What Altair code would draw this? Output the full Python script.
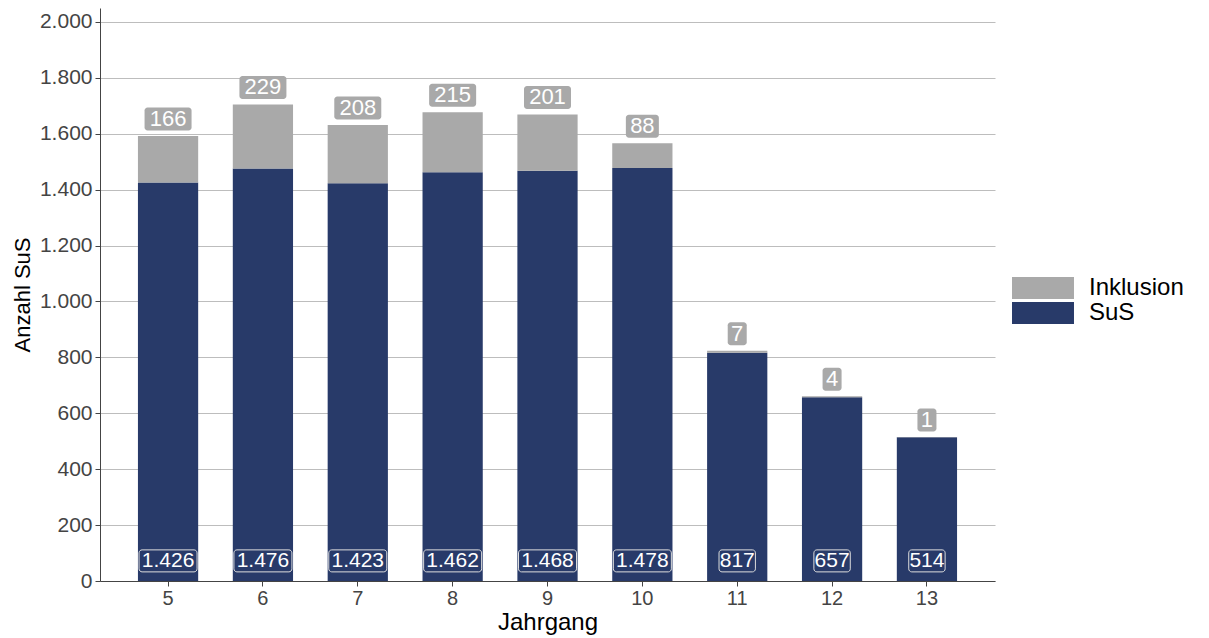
import altair as alt
import pandas as pd

jahrgang = [5, 6, 7, 8, 9, 10, 11, 12, 13]
sus = [1426, 1476, 1423, 1462, 1468, 1478, 817, 657, 514]
inklusion = [166, 229, 208, 215, 201, 88, 7, 4, 1]

NAVY = "#283a69"
GRAY = "#a9a9a9"
FONT = "Liberation Sans"

rows = []
for j, s, i in zip(jahrgang, sus, inklusion):
    rows.append({"Jahrgang": j, "Gruppe": "SuS", "Anzahl": s, "order": 2})
    rows.append({"Jahrgang": j, "Gruppe": "Inklusion", "Anzahl": i, "order": 1})
long_df = pd.DataFrame(rows)
wide_df = pd.DataFrame({"Jahrgang": jahrgang, "SuS": sus, "Inklusion": inklusion})

x_enc = alt.X("Jahrgang:O", title="Jahrgang",
              scale=alt.Scale(paddingInner=0.365, paddingOuter=0.4),
              axis=alt.Axis(labelAngle=0, labelFontSize=20, labelColor="#444444",
                            titleFontSize=24, titleColor="#000000", titleFontWeight="normal",
                            titlePadding=2, tickColor="#444444", tickSize=5,
                            domainColor="#444444", labelPadding=2, labelFont=FONT, titleFont=FONT))

bars = alt.Chart(long_df).mark_bar().encode(
    x=x_enc,
    y=alt.Y("sum(Anzahl):Q", title="Anzahl SuS",
            scale=alt.Scale(domain=[0, 2050], nice=False),
            axis=alt.Axis(values=list(range(0, 2001, 200)),
                          labelExpr="replace(format(datum.value, ','), ',', '.')",
                          labelFontSize=21, labelColor="#444444", labelFont=FONT,
                          titleFontSize=22, titleColor="#000000", titleFontWeight="normal",
                          titleFont=FONT, titlePadding=5,
                          grid=True, gridColor="#bdbdbd", gridWidth=1,
                          tickColor="#444444", tickSize=5, domainColor="#444444",
                          labelPadding=3)),
    color=alt.Color("Gruppe:N",
                    scale=alt.Scale(domain=["Inklusion", "SuS"], range=[GRAY, NAVY]),
                    legend=alt.Legend(title=None, orient="none",
                                      legendX=931, legendY=268,
                                      symbolType="M-2.8,-1H2.8V1H-2.8Z",
                                      symbolSize=490, symbolStrokeWidth=0,
                                      symbolOpacity=1,
                                      labelFontSize=24, labelFont=FONT, labelColor="#000000",
                                      rowPadding=1, labelOffset=34,
                                      padding=0)),
    order=alt.Order("order:Q", sort="descending"),
)

base = alt.Chart(wide_df).transform_calculate(
    sus_lbl="replace(format(datum.SuS, ','), ',', '.')",
    ink_lbl="format(datum.Inklusion, 'd')",
    total="datum.SuS + datum.Inklusion",
).transform_calculate(
    sus_w="length(datum.sus_lbl) * 10.8 + 4",
    ink_w="length(datum.ink_lbl) * 14 + 5",
)

sus_box = base.mark_tick(thickness=22, cornerRadius=3, color=NAVY, stroke="#dddddd",
                         strokeWidth=1, opacity=1, filled=True).encode(
    x="Jahrgang:O",
    y=alt.datum(72),
    size=alt.Size("sus_w:Q", scale=None, legend=None),
)
sus_text = base.mark_text(color="white", fontSize=21, font=FONT, baseline="middle").encode(
    x="Jahrgang:O",
    y=alt.datum(72),
    text="sus_lbl:N",
)
ink_box = base.mark_tick(thickness=23, cornerRadius=3, color=GRAY, opacity=1,
                         filled=True, yOffset=-17).encode(
    x="Jahrgang:O",
    y="total:Q",
    size=alt.Size("ink_w:Q", scale=None, legend=None),
)
ink_text = base.mark_text(color="white", fontSize=22, font=FONT, baseline="middle",
                          yOffset=-17).encode(
    x="Jahrgang:O",
    y="total:Q",
    text="ink_lbl:N",
)

chart = alt.layer(bars, sus_box, sus_text, ink_box, ink_text).properties(
    width=895, height=573,
    autosize=alt.AutoSizeParams(type="none"),
    padding={"left": 92, "top": 0, "right": 200, "bottom": 56},
).configure_view(stroke=None).configure_axisX(grid=False)

chart.save("out.html", embed_options={"renderer": "svg", "actions": False})
